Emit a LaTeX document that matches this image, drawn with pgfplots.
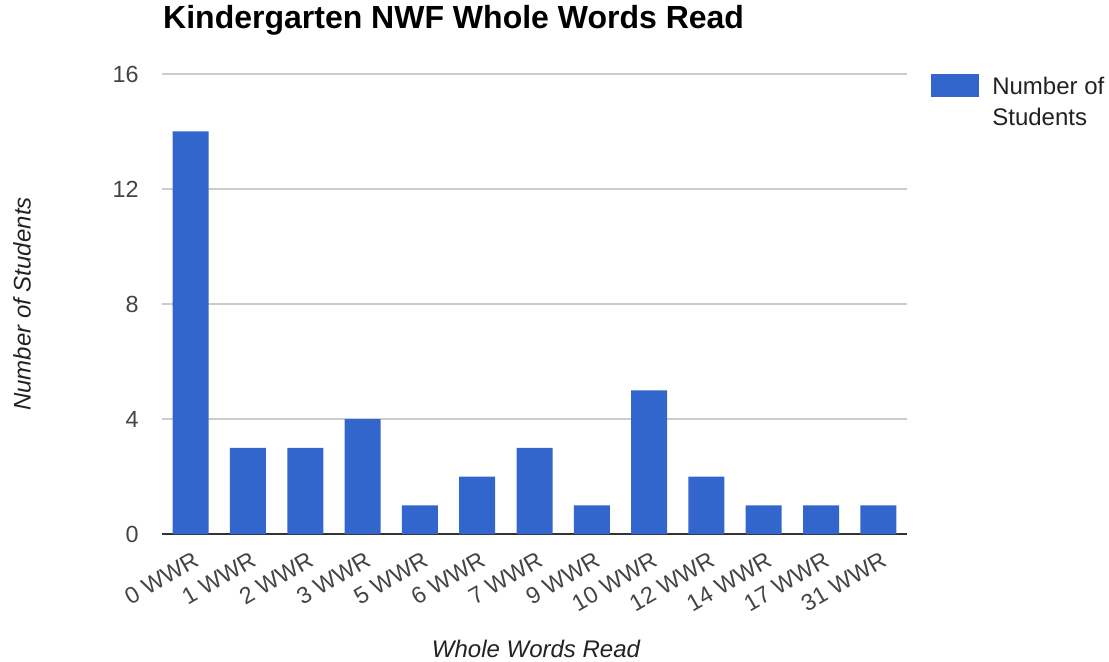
\documentclass[border=0pt]{standalone}
\usepackage{fontspec}
\setmainfont{Liberation Sans}
\usepackage{pgfplots}
\pgfplotsset{compat=1.18}
\definecolor{barblue}{HTML}{3366CC}
\definecolor{gridgray}{HTML}{CCCCCC}
\definecolor{ticktext}{HTML}{444444}
\definecolor{labeltext}{HTML}{222222}
\definecolor{baseline}{HTML}{333333}
\begin{document}
\begin{tikzpicture}
\path[use as bounding box] (-121.5pt,-95.25pt) rectangle (710.25pt,400.5pt);
\begin{axis}[
  at={(0,0)}, anchor=south west,
  scale only axis,
  width=558.75pt, height=345pt,
  xmin=-0.5, xmax=12.5,
  ymin=0, ymax=16,
  ytick={0,4,8,12,16},
  xtick={0,1,2,3,4,5,6,7,8,9,10,11,12},
  xticklabels={0 WWR,1 WWR,2 WWR,3 WWR,5 WWR,6 WWR,7 WWR,9 WWR,10 WWR,12 WWR,14 WWR,17 WWR,31 WWR},
  major tick length=0pt,
  axis x line*=bottom, axis y line*=left,
  x axis line style={-, draw=baseline, line width=1.4pt},
  y axis line style={draw=none},
  ymajorgrids, grid style={draw=gridgray, line width=0.9pt},
  /pgf/number format/assume math mode=true,
  yticklabel style={font=\fontsize{17.5}{19}\selectfont, text=ticktext, anchor=east, xshift=-14pt},
  xticklabel style={font=\fontsize{17.5}{19}\selectfont, text=ticktext, rotate=30, anchor=east, yshift=-18pt, xshift=-2pt},
  title={Kindergarten NWF Whole Words Read},
  title style={at={(axis description cs:0.0013,1.0826)}, anchor=base west, font=\bfseries\fontsize{24}{26}\selectfont, text=black, inner sep=0pt},
  xlabel={Whole Words Read},
  xlabel style={at={(axis description cs:0.502,-0.2674)}, anchor=base, font=\itshape\fontsize{18}{20}\selectfont, text=labeltext, inner sep=0pt},
  ylabel={Number of Students},
  ylabel style={at={(axis description cs:-0.188,0.5)}, anchor=center, rotate=0, font=\itshape\fontsize{18}{20}\selectfont, text=labeltext, inner sep=0pt},
  legend style={at={(axis description cs:1.0322,1)}, anchor=north west, draw=none, inner sep=0pt, outer sep=0pt,
    font=\fontsize{18}{23.25}\selectfont, text=labeltext, cells={align=left}, column sep=8pt},
  legend image code/.code={\fill[barblue] (0pt,3.5pt) rectangle (36pt,20.75pt);},
  clip=false,
]
\addplot[ybar, bar width=27pt, fill=barblue, draw=none] coordinates {
  (0,14) (1,3) (2,3) (3,4) (4,1) (5,2) (6,3) (7,1) (8,5) (9,2) (10,1) (11,1) (12,1)
};
\addlegendentry{Number of\\Students}
\end{axis}
\end{tikzpicture}
\end{document}
